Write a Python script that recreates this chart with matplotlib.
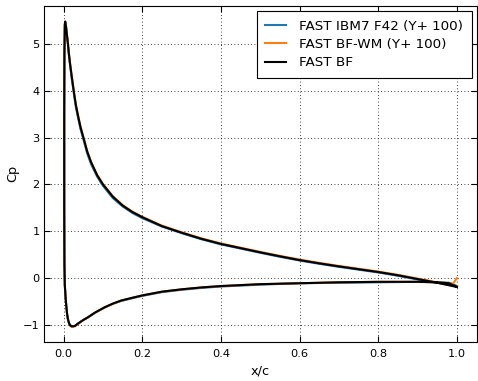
import matplotlib
matplotlib.use("Agg")
import matplotlib.pyplot as plt

# FAST BF (reference), contour from trailing edge over the suction peak and back along the other side
x_bf = [1.0, 0.95, 0.9, 0.85, 0.8, 0.75, 0.7, 0.65, 0.6, 0.55, 0.5, 0.45, 0.4, 0.35, 0.3,
        0.25, 0.2, 0.175, 0.15, 0.125, 0.1, 0.085, 0.07, 0.06, 0.051, 0.043, 0.037, 0.031,
        0.026, 0.021, 0.016, 0.013, 0.011, 0.008, 0.006, 0.004, 0.003, 0.002, 0.0015,
        0.0015, 0.002, 0.003, 0.005, 0.007, 0.009, 0.011, 0.014, 0.017, 0.020, 0.024,
        0.029, 0.035, 0.042, 0.05, 0.062, 0.08, 0.104, 0.125, 0.146, 0.175, 0.2, 0.25,
        0.3, 0.35, 0.4, 0.5, 0.6, 0.7, 0.8, 0.9, 0.95, 0.98, 1.0]
cp_bf = [-0.19, -0.10, -0.02, 0.06, 0.13, 0.19, 0.25, 0.315, 0.385, 0.465, 0.55, 0.64,
         0.73, 0.84, 0.97, 1.11, 1.30, 1.41, 1.55, 1.74, 2.0, 2.2, 2.47, 2.7, 2.98, 3.22,
         3.45, 3.7, 3.98, 4.28, 4.6, 4.82, 5.0, 5.22, 5.38, 5.48, 5.42, 4.8, 3.5, 1.5,
         0.3, -0.15, -0.42, -0.62, -0.78, -0.88, -0.97, -1.01, -1.03, -1.03, -1.02,
         -0.98, -0.94, -0.895, -0.835, -0.735, -0.625, -0.545, -0.48, -0.42, -0.37, -0.29,
         -0.24, -0.20, -0.17, -0.13, -0.11, -0.09, -0.08, -0.08, -0.09, -0.11, -0.19]

# FAST IBM7 F42 (Y+ 100)
x_ibm = [1.0, 0.95, 0.9, 0.85, 0.8, 0.75, 0.7, 0.65, 0.6, 0.55, 0.5, 0.45, 0.4, 0.35, 0.3,
         0.25, 0.2, 0.175, 0.15, 0.125, 0.1, 0.085, 0.07, 0.06, 0.051, 0.043, 0.037, 0.031,
         0.026, 0.021, 0.016, 0.013, 0.011, 0.008, 0.006, 0.004, 0.003, 0.002, 0.0015,
         0.0015, 0.002, 0.003, 0.005, 0.007, 0.009, 0.011, 0.014, 0.017, 0.020, 0.024,
         0.029, 0.035, 0.042, 0.05, 0.062, 0.08, 0.104, 0.125, 0.146, 0.175, 0.2, 0.25,
         0.3, 0.35, 0.4, 0.5, 0.6, 0.7, 0.8, 0.9, 0.95, 0.98, 1.0]
cp_ibm = [-0.17, -0.10, -0.03, 0.05, 0.12, 0.18, 0.24, 0.305, 0.375, 0.455, 0.54, 0.63,
          0.72, 0.83, 0.96, 1.10, 1.28, 1.39, 1.53, 1.71, 1.97, 2.17, 2.43, 2.66, 2.94,
          3.18, 3.41, 3.66, 3.94, 4.24, 4.57, 4.79, 4.98, 5.20, 5.36, 5.46, 5.40, 4.8,
          3.5, 1.5, 0.3, -0.15, -0.42, -0.62, -0.78, -0.88, -0.97, -1.01, -1.03, -1.03,
          -1.02, -0.98, -0.94, -0.895, -0.84, -0.74, -0.63, -0.55, -0.49, -0.43, -0.38,
          -0.30, -0.25, -0.21, -0.18, -0.14, -0.11, -0.10, -0.09, -0.08, -0.09, -0.10,
          -0.17]

# FAST BF-WM (Y+ 100)
x_wm = [1.0, 0.95, 0.9, 0.85, 0.8, 0.75, 0.7, 0.65, 0.6, 0.55, 0.5, 0.45, 0.4, 0.35, 0.3,
        0.25, 0.2, 0.175, 0.15, 0.125, 0.1, 0.085, 0.07, 0.06, 0.051, 0.043, 0.037, 0.031,
        0.026, 0.021, 0.016, 0.013, 0.011, 0.008, 0.006, 0.004, 0.003, 0.002, 0.0015,
        0.0015, 0.002, 0.003, 0.005, 0.007, 0.009, 0.011, 0.014, 0.017, 0.020, 0.024,
        0.029, 0.035, 0.042, 0.05, 0.062, 0.08, 0.104, 0.125, 0.146, 0.175, 0.2, 0.25,
        0.3, 0.35, 0.4, 0.5, 0.6, 0.7, 0.8, 0.9, 0.95, 0.99, 1.0]
cp_wm = [-0.18, -0.09, -0.01, 0.07, 0.14, 0.20, 0.26, 0.325, 0.395, 0.475, 0.56, 0.65,
         0.74, 0.85, 0.98, 1.12, 1.31, 1.42, 1.56, 1.75, 2.01, 2.21, 2.48, 2.71, 2.99,
         3.23, 3.46, 3.71, 3.99, 4.29, 4.61, 4.83, 5.01, 5.23, 5.39, 5.48, 5.42, 4.8,
         3.5, 1.5, 0.3, -0.15, -0.43, -0.63, -0.79, -0.89, -0.98, -1.02, -1.04, -1.04,
         -1.03, -0.99, -0.95, -0.90, -0.84, -0.74, -0.63, -0.55, -0.48, -0.42, -0.37,
         -0.29, -0.24, -0.20, -0.17, -0.13, -0.11, -0.09, -0.08, -0.08, -0.09, -0.12,
         0.0]

labels = ["FAST IBM7 F42 (Y+ 100)", "FAST BF-WM (Y+ 100)", "FAST BF"]

plt.rcParams['font.family'] = 'DejaVu Sans'

fig = plt.figure(figsize=(4.78, 3.81), dpi=100)
ax = fig.add_axes([0.092, 0.103, 0.905, 0.881])

ax.plot(x_ibm, cp_ibm, color='#1f77b4', lw=1.5, label=labels[0])
ax.plot(x_wm, cp_wm, color='#ff7f0e', lw=1.5, label=labels[1])
ax.plot(x_bf, cp_bf, color='black', lw=1.5, label=labels[2])

ax.set_xlim(-0.05, 1.05)
ax.set_ylim(-1.36, 5.81)
ax.set_xticks([0.0, 0.2, 0.4, 0.6, 0.8, 1.0])
ax.set_yticks([-1, 0, 1, 2, 3, 4, 5])
ax.tick_params(direction='in', top=True, right=True, length=4, labelsize=8.2)
ax.tick_params(axis='x', pad=5)
ax.tick_params(axis='y', pad=3)
ax.grid(True, color='black', linestyle=(0, (1, 3)), linewidth=0.6)
ax.set_xlabel("x/c", fontsize=9.3, labelpad=4)
ax.set_ylabel("Cp", fontsize=9.3, labelpad=3)

leg = ax.legend(loc='upper right', fancybox=False, framealpha=1, edgecolor='black',
                handlelength=1.5, handletextpad=1.0, borderpad=0.65, labelspacing=0.4,
                borderaxespad=0.35, fontsize=9.7)
leg.get_frame().set_linewidth(0.8)

fig.savefig("out.png", dpi=100)
